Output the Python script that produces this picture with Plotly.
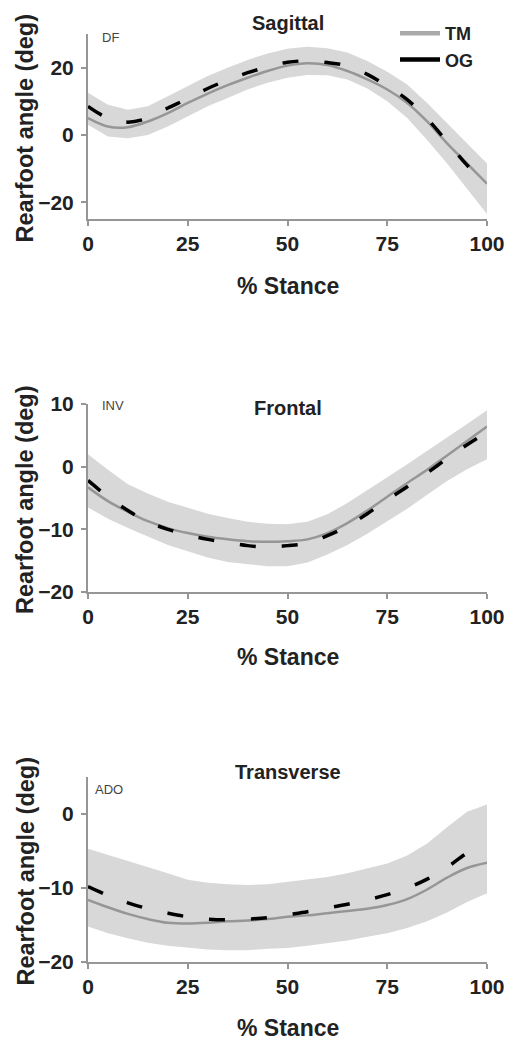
import plotly.graph_objects as go

W, H = 510, 1043

pct = [0, 5, 10, 15, 20, 25, 30, 35, 40, 45, 50, 55, 60, 65, 70, 75, 80, 85, 90, 95, 100]

# Sagittal
sag_tm = [5, 2.5, 2.3, 4, 6.5, 9.5, 12.3, 14.8, 17, 19, 20.6, 21.3, 20.8, 19, 16.5, 13.5, 9.5, 4, -2.5, -8.5, -14.5]
sag_og = [8.5, 5, 3.8, 5, 8, 10.8, 13.8, 16.3, 18.5, 20.2, 21.6, 22, 21.5, 20.5, 18, 14.5, 10.5, 4.8, -2, -9, -15]
sag_hi = [12.5, 9, 7.5, 8.5, 11.5, 14.5, 17.5, 20, 22.3, 24.2, 25.6, 26.2, 25.8, 24.5, 22, 18.8, 15, 9.5, 3.5, -2.5, -8.5]
sag_lo = [3, -0.5, -1, 0, 2.5, 5.5, 8.5, 11, 13.5, 15.5, 17, 17.8, 17.7, 16.5, 13.8, 10, 5, -1.5, -8.5, -16, -23.5]

# Frontal
fro_tm = [-3.3, -5.5, -7.2, -8.7, -9.8, -10.6, -11.2, -11.6, -11.9, -12, -11.9, -11.6, -10.6, -9, -7, -4.8, -2.6, -0.5, 1.8, 4.1, 6.4]
fro_og = [-2.2, -4.8, -7, -8.8, -10, -10.9, -11.6, -12.1, -12.6, -12.8, -12.6, -12.2, -11, -9.5, -7.5, -5.3, -3.2, -1, 1.3, 3.5, 5.5]
fro_hi = [2, -0.5, -2.8, -4.3, -5.6, -6.6, -7.5, -8.2, -8.8, -9.1, -9.2, -8.8, -7.6, -5.8, -3.8, -1.7, 0.4, 2.5, 4.6, 6.8, 9]
fro_lo = [-6.5, -8.3, -9.8, -11.2, -12.5, -13.5, -14.5, -15.2, -15.6, -15.9, -15.9, -15.3, -14, -12.5, -10.7, -8.7, -6.7, -4.5, -2.3, -0.4, 1.2]

# Transverse
tra_tm = [-11.6, -12.6, -13.5, -14.2, -14.7, -14.8, -14.7, -14.5, -14.4, -14.2, -13.9, -13.7, -13.4, -13.1, -12.8, -12.3, -11.5, -10.2, -8.6, -7.3, -6.6]
tra_og = [-9.8, -11, -12, -12.8, -13.4, -13.9, -14.2, -14.3, -14.2, -14, -13.6, -13.2, -12.7, -12.2, -11.6, -10.9, -10, -8.8, -7.2, -5.3, -4]
tra_hi = [-4.7, -5.5, -6.3, -7.2, -8, -8.9, -9.3, -9.5, -9.6, -9.5, -9.2, -8.9, -8.5, -8, -7.4, -6.7, -5.6, -4, -1.8, 0.3, 1.3]
tra_lo = [-15.2, -16.1, -16.8, -17.4, -17.8, -18.1, -18.3, -18.4, -18.4, -18.2, -18.1, -17.8, -17.5, -17.1, -16.6, -16.1, -15.4, -14.5, -13.3, -11.9, -10.7]

panel_titles = ["Sagittal", "Frontal", "Transverse"]
corner_labels = ["DF", "INV", "ADO"]
y_ranges = [[-25, 30], [-20, 10], [-20, 5]]
y_ticks = [[-20, 0, 20], [-20, -10, 0, 10], [-20, -10, 0]]
x_ticks = [0, 25, 50, 75, 100]
series_names = ["TM", "OG"]

panels = [
    (sag_tm, sag_og, sag_hi, sag_lo),
    (fro_tm, fro_og, fro_hi, fro_lo),
    (tra_tm, tra_og, tra_hi, tra_lo),
]

FONT = "Liberation Sans, Arial, sans-serif"
BAND = "rgb(216,216,216)"
TMC = "rgb(150,150,150)"
AXC = "rgb(150,150,150)"
TXT = "#222"

# pixel layout
x_left, x_right = 88, 487
plot_px = [(34, 219), (404, 592), (777, 962)]
title_py = [23, 408, 772]
xtitle_py = [286, 657, 1028]
corner_px = [(100, 38), (100, 405), (93, 789)]

fig = go.Figure()

for i, (tm, og, hi, lo) in enumerate(panels):
    xa = "x" if i == 0 else f"x{i+1}"
    ya = "y" if i == 0 else f"y{i+1}"
    fig.add_trace(go.Scatter(x=pct, y=lo, mode="lines", line=dict(width=0, color=BAND),
                             showlegend=False, hoverinfo="skip", xaxis=xa, yaxis=ya))
    fig.add_trace(go.Scatter(x=pct, y=hi, mode="lines", line=dict(width=0, color=BAND),
                             fill="tonexty", fillcolor=BAND, showlegend=False,
                             hoverinfo="skip", xaxis=xa, yaxis=ya))
    fig.add_trace(go.Scatter(x=pct, y=tm, mode="lines", line=dict(color=TMC, width=2.5, shape="spline"),
                             showlegend=False, xaxis=xa, yaxis=ya, name=series_names[0]))
    fig.add_trace(go.Scatter(x=pct, y=og, mode="lines",
                             line=dict(color="black", width=3.5, dash="16px,26px", shape="spline"),
                             showlegend=False, xaxis=xa, yaxis=ya, name=series_names[1]))

# legend entries (solid samples as in the reference legend)
fig.add_trace(go.Scatter(x=[None], y=[None], mode="lines", name=series_names[0],
                         line=dict(color="rgb(170,170,170)", width=4.5)))
fig.add_trace(go.Scatter(x=[None], y=[None], mode="lines", name=series_names[1],
                         line=dict(color="black", width=4.5)))

layout = dict(
    width=W, height=H, autosize=False,
    margin=dict(l=0, r=0, t=0, b=0, autoexpand=False),
    paper_bgcolor="white", plot_bgcolor="white",
    font=dict(family=FONT, color=TXT),
    showlegend=True,
    legend=dict(x=395 / W, y=1 - 15 / H, xanchor="left", yanchor="top",
                traceorder="normal",
                bgcolor="rgba(0,0,0,0)", font=dict(size=18, family=FONT, color=TXT, weight="bold"),
                tracegroupgap=0, itemwidth=40),
)

annotations = []
for i in range(3):
    sfx = "" if i == 0 else str(i + 1)
    top, bot = plot_px[i]
    layout["xaxis" + sfx] = dict(
        domain=[x_left / W, x_right / W], range=[0, 100], anchor="y" + sfx,
        tickvals=x_ticks, ticks="outside", ticklen=5, tickwidth=2, tickcolor=AXC,
        showline=True, linecolor=AXC, linewidth=2, showgrid=False, zeroline=False,
        automargin=False,
        tickfont=dict(size=21, family=FONT, color=TXT, weight="bold"),
    )
    layout["yaxis" + sfx] = dict(
        domain=[1 - bot / H, 1 - top / H], range=y_ranges[i], anchor="x" + sfx,
        tickvals=y_ticks[i], ticks="outside", ticklen=5, tickwidth=2, tickcolor=AXC,
        showline=True, linecolor=AXC, linewidth=2, showgrid=False, zeroline=False,
        automargin=False,
        tickfont=dict(size=21, family=FONT, color=TXT, weight="bold"),
        ticklabelstandoff=3,
    )
    annotations.append(dict(text=panel_titles[i], x=288 / W, y=1 - title_py[i] / H,
                            xref="paper", yref="paper", showarrow=False,
                            xanchor="center", yanchor="middle",
                            font=dict(size=20, family=FONT, color=TXT, weight="bold")))
    annotations.append(dict(text="% Stance", x=288 / W, y=1 - xtitle_py[i] / H,
                            xref="paper", yref="paper", showarrow=False,
                            xanchor="center", yanchor="middle",
                            font=dict(size=23, family=FONT, color=TXT, weight="bold")))
    annotations.append(dict(text="Rearfoot angle (deg)", x=25 / W, y=1 - ((top + bot) / 2 + 2) / H,
                            xref="paper", yref="paper", showarrow=False, textangle=-90,
                            xanchor="center", yanchor="middle",
                            font=dict(size=23.5, family=FONT, color=TXT, weight="bold")))
    cx, cy = corner_px[i]
    annotations.append(dict(text=corner_labels[i], x=cx / W, y=1 - cy / H,
                            xref="paper", yref="paper", showarrow=False,
                            xanchor="left", yanchor="middle",
                            font=dict(size=13, family=FONT, color="#444")))

layout["annotations"] = annotations
fig.update_layout(**layout)
fig.write_html("out.html")
